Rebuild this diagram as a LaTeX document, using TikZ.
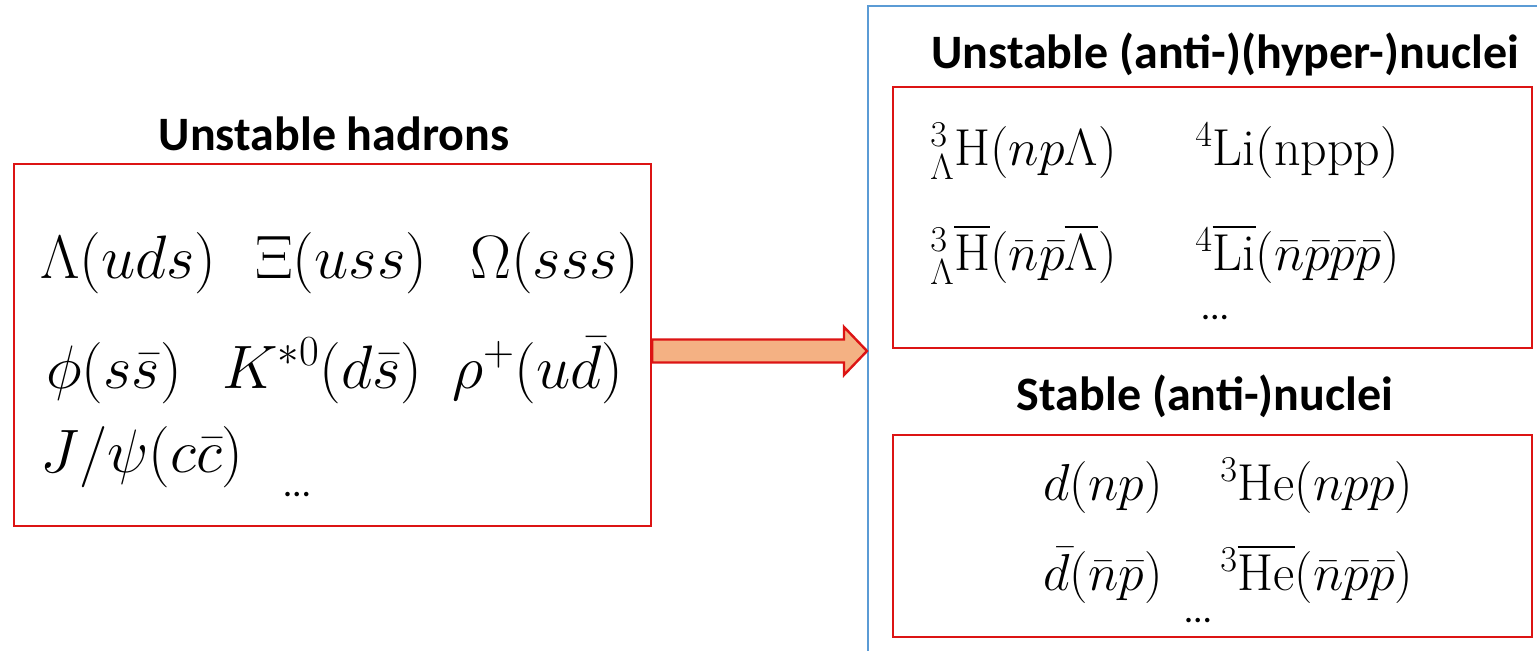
\RequirePackage{fix-cm}
\documentclass[tikz,border=0pt]{standalone}
\usepackage{amsmath,amssymb}
\usepackage{fontspec}
\newfontfamily\titlefont{Carlito}
\usetikzlibrary{positioning,calc}
\definecolor{hred}{RGB}{220,20,20}
\definecolor{hblue}{RGB}{91,155,213}
\definecolor{harrow}{RGB}{244,177,131}
\tikzset{
  redbox/.style={draw=hred, line width=1.8pt, inner sep=0pt},
  boxtitle/.style={font=\titlefont\bfseries\fontsize{36}{40}\selectfont, inner sep=0pt},
  bigmath/.style={font=\fontsize{46}{50}\selectfont, inner sep=0pt, anchor=base west},
  nucmath/.style={font=\fontsize{39}{42}\selectfont, inner sep=0pt, anchor=base west},
  moredots/.style={font=\titlefont\fontsize{28}{30}\selectfont, inner sep=0pt, anchor=base}
}
\begin{document}
\begin{tikzpicture}[x=0.75pt, y=-0.75pt]
        \useasboundingbox (0,0) rectangle (1537,650);
        \clip (0,0) rectangle (1537,650);
        % outer frame on the right
        \node[draw=hblue, line width=1.5pt, minimum width=680*0.75pt, minimum height=660*0.75pt,
          inner sep=0pt] (frame) at (1208,336) {};
        % left box: hadrons
        \node[redbox, minimum width=637*0.75pt, minimum height=362*0.75pt]
          (hadrons) at (332.5,345) {};
        \node[boxtitle, anchor=base] (hadtitle) at (334,150) {Unstable hadrons};
        \node[bigmath] (lam) at (40,278) {$\Lambda(uds)$};
        \node[bigmath] (xi) at (255,278) {$\Xi(uss)$};
        \node[bigmath] (om) at (470,278) {$\Omega(sss)$};
        \node[bigmath] (phi) at (46,388) {$\phi(s\bar{s})$};
        \node[bigmath] (kst) at (222,388) {$K^{*0}(d\bar{s})$};
        \node[bigmath] (rho) at (452,388) {$\rho^{+}(u\bar{d})$};
        \node[bigmath] (jpsi) at (40,472) {$J/\psi(c\bar{c})$};
        \node[moredots] (haddots) at (297,496) {…};
        % right boxes: nuclei
        \node[redbox, minimum width=639*0.75pt, minimum height=261*0.75pt]
          (hyper) at (1212.5,217.5) {};
        \node[boxtitle, anchor=base] (hyptitle) at (1225,68) {Unstable (anti-)(hyper-)nuclei};
        \node[nucmath] (hyt) at (930,165) {${}^{3}_{\Lambda}\mathrm{H}(np\Lambda)$};
        \node[nucmath] (lif) at (1195,165) {${}^{4}\mathrm{Li}(\mathrm{nppp})$};
        \node[nucmath] (ahyt) at (930,270) {${}^{3}_{\Lambda}\overline{\mathrm{H}}(\bar{n}\bar{p}\overline{\Lambda})$};
        \node[nucmath] (alif) at (1195,270) {${}^{4}\overline{\mathrm{Li}}(\bar{n}\bar{p}\bar{p}\bar{p})$};
        \node[moredots] (hypdots) at (1215,319) {…};
        \node[redbox, minimum width=639*0.75pt, minimum height=202*0.75pt]
          (stable) at (1212.5,536) {};
        \node[boxtitle, anchor=base] (stabtitle) at (1205,410) {Stable (anti-)nuclei};
        \node[nucmath] (deut) at (1043,500) {$d(np)$};
        \node[nucmath] (hel) at (1220,500) {${}^{3}\mathrm{He}(npp)$};
        \node[nucmath] (adeut) at (1043,590) {$\bar{d}(\bar{n}\bar{p})$};
        \node[nucmath] (ahel) at (1220,590) {${}^{3}\overline{\mathrm{He}}(\bar{n}\bar{p}\bar{p})$};
        \node[moredots] (stabdots) at (1198,622) {…};
        % block arrow
        \coordinate (tip) at (frame.west |- 0,351);
        \coordinate (tail) at (hadrons.east |- tip);
        \draw[draw=hred, fill=harrow, line width=1.8pt, line join=miter]
          ($(tail)+(0,-11.5)$) -- ($(tip)+(-23,-11.5)$) -- ($(tip)+(-23,-24)$) -- (tip)
          -- ($(tip)+(-23,24)$) -- ($(tip)+(-23,11.5)$) -- ($(tail)+(0,11.5)$) -- cycle;
      \end{tikzpicture}
\end{document}
